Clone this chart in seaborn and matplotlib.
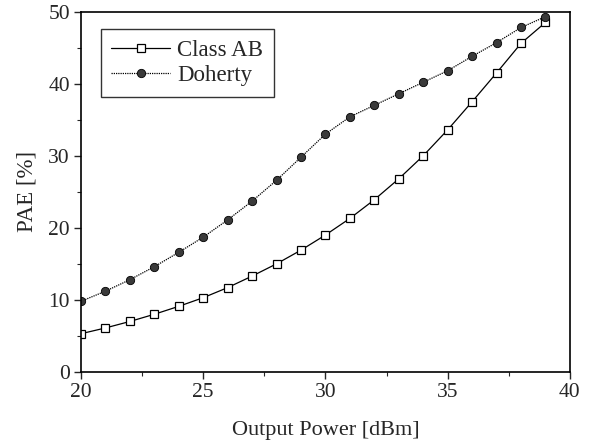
import numpy as np
import pandas as pd
import matplotlib
matplotlib.use("Agg")
import matplotlib.pyplot as plt
import seaborn as sns

# data
output_power = [20, 21, 22, 23, 24, 25, 26, 27, 28, 29,
                30, 31, 32, 33, 34, 35, 36, 37, 38, 39]
pae_class_ab = [5.3, 6.1, 7.0, 8.0, 9.1, 10.3, 11.7, 13.3, 15.0, 16.9,
                19.0, 21.3, 23.9, 26.8, 30.0, 33.6, 37.5, 41.5, 45.6, 48.5]
pae_doherty = [9.8, 11.2, 12.8, 14.6, 16.6, 18.7, 21.1, 23.7, 26.6, 29.8,
               33.0, 35.4, 37.0, 38.6, 40.2, 41.8, 43.8, 45.7, 47.8, 49.3]

df = pd.DataFrame({"Output Power": output_power,
                   "Class AB": pae_class_ab,
                   "Doherty": pae_doherty})

sns.set_style("ticks")
plt.rcParams["font.family"] = ["Liberation Serif", "DejaVu Serif"]

fig = plt.figure(figsize=(5.93, 4.47), dpi=100)
ax = fig.add_axes([0.1366, 0.168, 0.8245, 0.806])

sns.lineplot(data=df, x="Output Power", y="Class AB", ax=ax, color="black",
             lw=0.9, marker="s", markersize=6, markerfacecolor="white",
             markeredgecolor="black", markeredgewidth=0.9, label="Class AB")
sns.lineplot(data=df, x="Output Power", y="Doherty", ax=ax, color="black",
             lw=0.9, linestyle=(0, (1, 0.8)), marker="o", markersize=6,
             markerfacecolor="#3a3a3a", markeredgecolor="black",
             markeredgewidth=0.6, label="Doherty")

ax.set_xlim(20, 40)
ax.set_ylim(0, 50)
ax.set_xticks([20, 25, 30, 35, 40])
ax.set_yticks([0, 10, 20, 30, 40, 50])
ax.set_xticks(np.arange(22.5, 40, 5), minor=True)
ax.set_yticks(np.arange(5, 50, 10), minor=True)
ax.tick_params(which="major", direction="out", length=5, width=1, labelsize=15.5, pad=3)
ax.tick_params(which="minor", direction="out", length=3, width=0.8)
for s in ax.spines.values():
    s.set_visible(True)
    s.set_linewidth(1.2)
    s.set_color("black")

ax.set_xlabel("Output Power [dBm]", fontsize=16, labelpad=14)
ax.set_ylabel("PAE [%]", fontsize=16.5, labelpad=8)

leg = ax.legend(loc="upper left", bbox_to_anchor=(0.04, 0.951), fontsize=16.5,
                frameon=True, fancybox=False, edgecolor="black",
                handlelength=2.6, handletextpad=0.3, borderpad=0.45,
                labelspacing=0.2, borderaxespad=0)
leg.get_frame().set_linewidth(1.0)

fig.savefig("out.png", dpi=100)
